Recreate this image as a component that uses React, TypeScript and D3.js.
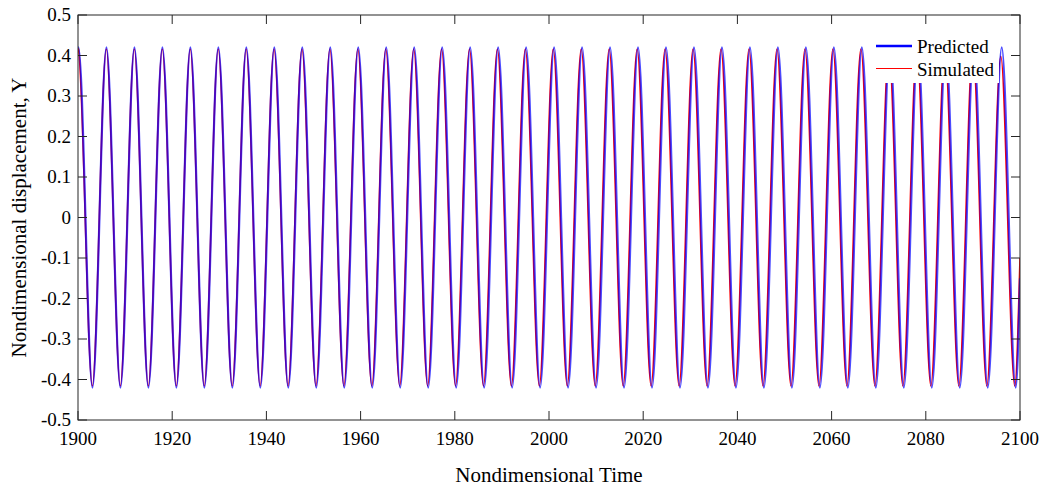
import * as d3 from "d3";
import { useEffect, useRef } from "react";

// extremum times (start, peaks/troughs..., end)
const predictedTime = [
  1900.0, 1900.10, 1903.07, 1906.04, 1909.01, 1911.98, 1914.95, 1917.92, 1920.89, 1923.86,
  1926.83, 1929.80, 1932.77, 1935.74, 1938.71, 1941.68, 1944.65, 1947.62, 1950.59, 1953.56,
  1956.53, 1959.50, 1962.47, 1965.44, 1968.41, 1971.38, 1974.35, 1977.32, 1980.29, 1983.26,
  1986.23, 1989.20, 1992.17, 1995.14, 1998.11, 2001.08, 2004.05, 2007.02, 2009.99, 2012.96,
  2015.93, 2018.90, 2021.87, 2024.84, 2027.81, 2030.78, 2033.75, 2036.72, 2039.69, 2042.66,
  2045.63, 2048.60, 2051.57, 2054.54, 2057.51, 2060.48, 2063.45, 2066.42, 2069.39, 2072.36,
  2075.33, 2078.30, 2081.27, 2084.24, 2087.21, 2090.18, 2093.15, 2096.12, 2099.09, 2100.0,
];

const simulatedTime = [
  1900.0, 1900.08, 1903.04, 1906.01, 1908.98, 1911.95, 1914.92, 1917.89, 1920.86, 1923.83,
  1926.80, 1929.77, 1932.73, 1935.70, 1938.66, 1941.62, 1944.59, 1947.55, 1950.52, 1953.48,
  1956.45, 1959.41, 1962.38, 1965.34, 1968.30, 1971.27, 1974.23, 1977.19, 1980.15, 1983.12,
  1986.08, 1989.04, 1992.01, 1994.97, 1997.94, 2000.90, 2003.87, 2006.84, 2009.80, 2012.77,
  2015.74, 2018.71, 2021.67, 2024.64, 2027.61, 2030.58, 2033.55, 2036.52, 2039.49, 2042.46,
  2045.43, 2048.40, 2051.37, 2054.34, 2057.31, 2060.28, 2063.25, 2066.22, 2069.19, 2072.16,
  2075.13, 2078.10, 2081.07, 2084.04, 2087.01, 2089.98, 2092.95, 2095.92, 2098.89, 2100.0,
];

const predictedY = [
  0.418, 0.42, -0.42, 0.42, -0.42, 0.42, -0.42, 0.42, -0.42, 0.42,
  -0.42, 0.42, -0.42, 0.42, -0.42, 0.42, -0.42, 0.42, -0.42, 0.42,
  -0.42, 0.42, -0.42, 0.42, -0.42, 0.42, -0.42, 0.42, -0.42, 0.42,
  -0.42, 0.42, -0.42, 0.42, -0.42, 0.42, -0.42, 0.42, -0.42, 0.42,
  -0.42, 0.42, -0.42, 0.42, -0.42, 0.42, -0.42, 0.42, -0.42, 0.42,
  -0.42, 0.42, -0.42, 0.42, -0.42, 0.42, -0.42, 0.42, -0.42, 0.42,
  -0.42, 0.42, -0.42, 0.42, -0.42, 0.42, -0.42, 0.42, -0.42, -0.15,
];

const simulatedY = [
  0.418, 0.416, -0.416, 0.416, -0.416, 0.416, -0.416, 0.416, -0.416, 0.416,
  -0.416, 0.416, -0.416, 0.416, -0.416, 0.416, -0.416, 0.416, -0.416, 0.416,
  -0.416, 0.416, -0.416, 0.416, -0.416, 0.416, -0.416, 0.416, -0.416, 0.416,
  -0.416, 0.416, -0.416, 0.416, -0.416, 0.416, -0.416, 0.416, -0.416, 0.416,
  -0.416, 0.416, -0.416, 0.416, -0.416, 0.416, -0.416, 0.416, -0.416, 0.416,
  -0.416, 0.416, -0.416, 0.416, -0.416, 0.416, -0.416, 0.416, -0.416, 0.416,
  -0.416, 0.416, -0.416, 0.416, -0.416, 0.416, -0.416, 0.398, -0.416, -0.10,
];

const xTicks = [1900, 1920, 1940, 1960, 1980, 2000, 2020, 2040, 2060, 2080, 2100];
const yTicks = [-0.5, -0.4, -0.3, -0.2, -0.1, 0, 0.1, 0.2, 0.3, 0.4, 0.5];

const W = 1043;
const H = 488;
const margin = { top: 15, right: 23, bottom: 68, left: 78 };
const FONT = "'Liberation Serif', 'Times New Roman', serif";
const AXIS = "#262626";

const App = () => {
  const ref = useRef(null);

  useEffect(() => {
    const svg = d3.select(ref.current);
    svg.selectAll("*").remove();

    const x0 = margin.left, x1 = W - margin.right;
    const y0 = margin.top, y1 = H - margin.bottom;

    const x = d3.scaleLinear().domain([1900, 2100]).range([x0, x1]);
    const y = d3.scaleLinear().domain([-0.5, 0.5]).range([y1, y0]);

    svg.append("rect").attr("width", W).attr("height", H).attr("fill", "#fff");

    svg.append("defs").append("clipPath").attr("id", "plotclip")
      .append("rect").attr("x", x0).attr("y", y0).attr("width", x1 - x0).attr("height", y1 - y0);

    const line = d3.line()
      .x(d => x(d[0]))
      .y(d => y(d[1]))
      .curve(d3.curveMonotoneX);

    const pred = predictedTime.map((t, i) => [t, predictedY[i]]);
    const sim = simulatedTime.map((t, i) => [t, simulatedY[i]]);

    // simulated underneath, predicted on top with some transparency
    const g = svg.append("g").attr("clip-path", "url(#plotclip)");
    g.append("path").attr("d", line(sim))
      .attr("fill", "none").attr("stroke", "#ff0000").attr("stroke-width", 1.6);
    g.append("path").attr("d", line(pred))
      .attr("fill", "none").attr("stroke", "#0000ff").attr("stroke-width", 2.2)
      .attr("stroke-opacity", 0.7);

    // legend (white box, no border)
    const lg = svg.append("g");
    lg.append("rect").attr("x", 871).attr("y", 32).attr("width", 128).attr("height", 51).attr("fill", "#fff");
    lg.append("line").attr("x1", 876).attr("x2", 912).attr("y1", 46).attr("y2", 46)
      .attr("stroke", "#0000ff").attr("stroke-width", 2.6);
    lg.append("line").attr("x1", 876).attr("x2", 912).attr("y1", 68.5).attr("y2", 68.5)
      .attr("stroke", "#ff0000").attr("stroke-width", 1);
    lg.append("text").attr("x", 917).attr("y", 53).text("Predicted")
      .attr("font-family", FONT).attr("font-size", 19).attr("fill", "#000");
    lg.append("text").attr("x", 917).attr("y", 76).text("Simulated")
      .attr("font-family", FONT).attr("font-size", 19).attr("fill", "#000");

    // box
    svg.append("rect").attr("x", x0).attr("y", y0).attr("width", x1 - x0).attr("height", y1 - y0)
      .attr("fill", "none").attr("stroke", AXIS).attr("stroke-width", 1);

    const tick = 9;
    xTicks.forEach(v => {
      const px = x(v);
      svg.append("line").attr("x1", px).attr("x2", px).attr("y1", y1).attr("y2", y1 - tick).attr("stroke", AXIS);
      svg.append("line").attr("x1", px).attr("x2", px).attr("y1", y0).attr("y2", y0 + tick).attr("stroke", AXIS);
      svg.append("text").attr("x", px).attr("y", y1 + 25).attr("text-anchor", "middle")
        .attr("font-family", FONT).attr("font-size", 19).attr("fill", "#000").text(String(v));
    });
    yTicks.forEach(v => {
      const py = y(v);
      svg.append("line").attr("x1", x0).attr("x2", x0 + tick).attr("y1", py).attr("y2", py).attr("stroke", AXIS);
      svg.append("line").attr("x1", x1).attr("x2", x1 - tick).attr("y1", py).attr("y2", py).attr("stroke", AXIS);
      svg.append("text").attr("x", x0 - 7).attr("y", py).attr("dy", "0.33em").attr("text-anchor", "end")
        .attr("font-family", FONT).attr("font-size", 19).attr("fill", "#000").text(String(v));
    });

    svg.append("text").attr("x", (x0 + x1) / 2).attr("y", 482).attr("text-anchor", "middle")
      .attr("font-family", FONT).attr("font-size", 21).attr("fill", "#000").text("Nondimensional Time");
    svg.append("text").attr("transform", `translate(26, ${(y0 + y1) / 2}) rotate(-90)`)
      .attr("text-anchor", "middle")
      .attr("font-family", FONT).attr("font-size", 21).attr("fill", "#000").text("Nondimensional displacement, Y");
  }, []);

  return (
    <svg ref={ref} width={W} height={H} style={{ position: "absolute", left: 0, top: 0 }}></svg>
  );
};

export default App;
